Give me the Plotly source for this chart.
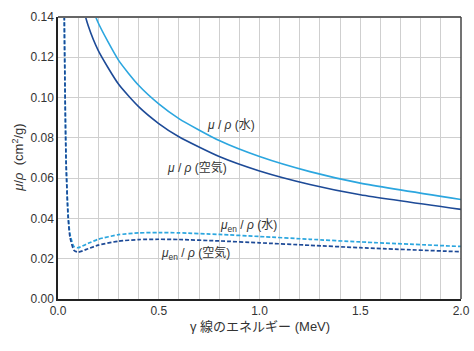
import plotly.graph_objects as go

energy = [0.01, 0.015, 0.02, 0.03, 0.04, 0.05, 0.06, 0.08, 0.1, 0.15, 0.2, 0.3,
          0.4, 0.5, 0.6, 0.8, 1.0, 1.25, 1.5, 2.0]
mu_water = [5.329, 1.673, 0.8096, 0.3756, 0.2683, 0.2269, 0.2059, 0.1837, 0.1707,
            0.1505, 0.1370, 0.1186, 0.1061, 0.09687, 0.08956, 0.07865, 0.07072,
            0.06323, 0.05754, 0.04942]
mu_air = [5.120, 1.614, 0.7779, 0.3538, 0.2485, 0.2080, 0.1875, 0.1662, 0.1541,
          0.1356, 0.1233, 0.1067, 0.09549, 0.08712, 0.08055, 0.07074, 0.06358,
          0.05687, 0.05175, 0.04447]
muen_water = [4.944, 1.374, 0.5503, 0.1557, 0.06947, 0.04223, 0.03190, 0.02597,
              0.02546, 0.02764, 0.02967, 0.03192, 0.03279, 0.03299, 0.03284,
              0.03206, 0.03103, 0.02965, 0.02833, 0.02608]
muen_air = [4.742, 1.334, 0.5389, 0.1537, 0.06833, 0.04098, 0.03041, 0.02407,
            0.02325, 0.02496, 0.02672, 0.02872, 0.02949, 0.02966, 0.02953,
            0.02882, 0.02789, 0.02666, 0.02547, 0.02345]

light = "#2ba6df"
dark = "#1d4a97"
font = "Liberation Sans, Arial, Noto Sans CJK JP"
jfont = "Liberation Sans, Noto Sans CJK JP"

fig = go.Figure()
fig.add_trace(go.Scatter(x=energy, y=mu_water, mode="lines",
                         line=dict(color=light, width=1.6, shape="spline", smoothing=0.6)))
fig.add_trace(go.Scatter(x=energy, y=mu_air, mode="lines",
                         line=dict(color=dark, width=1.6, shape="spline", smoothing=0.6)))
fig.add_trace(go.Scatter(x=energy, y=muen_water, mode="lines",
                         line=dict(color=light, width=1.7, dash="4px,2px", shape="spline", smoothing=0.6)))
fig.add_trace(go.Scatter(x=energy, y=muen_air, mode="lines",
                         line=dict(color=dark, width=1.7, dash="4px,2px", shape="spline", smoothing=0.6)))

fig.update_layout(
    width=474, height=351,
    margin=dict(l=58, r=13, t=17, b=52, autoexpand=False),
    paper_bgcolor="white", plot_bgcolor="white",
    showlegend=False,
    font=dict(family=font, size=12, color="#333"),
)
fig.update_xaxes(range=[0, 2.0], dtick=0.5, tickformat=".1f", automargin=False,
                 showgrid=True, gridcolor="#cfcfcf", gridwidth=1,
                 minor=dict(dtick=0.1, showgrid=True, gridcolor="#cfcfcf", gridwidth=1),
                 showline=True, linecolor="#222", linewidth=1.5, ticks="",
                 zeroline=False, tickfont=dict(size=12, color="#333"))
fig.update_yaxes(range=[0, 0.14], dtick=0.02, tickformat=".2f", automargin=False,
                 showgrid=True, gridcolor="#cfcfcf", gridwidth=1,
                 showline=True, linecolor="#222", linewidth=1.5, ticks="",
                 zeroline=False, tickfont=dict(size=12, color="#333"))

# top and right frame
fig.add_shape(type="line", xref="paper", yref="paper", x0=0, x1=1, y0=1, y1=1,
              line=dict(color="#666", width=2))
fig.add_shape(type="line", xref="paper", yref="paper", x0=1, x1=1, y0=0, y1=1,
              line=dict(color="#444", width=1.5))

ann = dict(showarrow=False, font=dict(family=jfont, size=12, color="#333"))
fig.add_annotation(x=0.5, y=-0.096, xref="paper", yref="paper",
                   xanchor="center", yanchor="middle",
                   text="γ 線のエネルギー (MeV)", font=dict(family=jfont, size=13, color="#333"),
                   showarrow=False)
fig.add_annotation(x=-0.1, y=0.5, xref="paper", yref="paper", textangle=-90,
                   xanchor="center", yanchor="middle",
                   text="<i>μ</i>/<i>ρ</i>\u00a0\u00a0(cm<sup>2</sup>/g)",
                   font=dict(family=jfont, size=13, color="#333"), showarrow=False)
fig.add_annotation(x=0.86, y=0.0865, xanchor="center", yanchor="middle",
                   text="<i>μ</i> / <i>ρ</i>\u00a0(水)", **ann)
fig.add_annotation(x=0.69, y=0.0655, xanchor="center", yanchor="middle",
                   text="<i>μ</i> / <i>ρ</i>\u00a0(空気)", **ann)
fig.add_annotation(x=0.945, y=0.0360, xanchor="center", yanchor="middle",
                   text="<i>μ</i><sub>en</sub> / <i>ρ</i>\u00a0(水)", **ann)
fig.add_annotation(x=0.68, y=0.0225, xanchor="center", yanchor="middle",
                   text="<i>μ</i><sub>en</sub> / <i>ρ</i>\u00a0(空気)", **ann)

fig.write_html("out.html")
